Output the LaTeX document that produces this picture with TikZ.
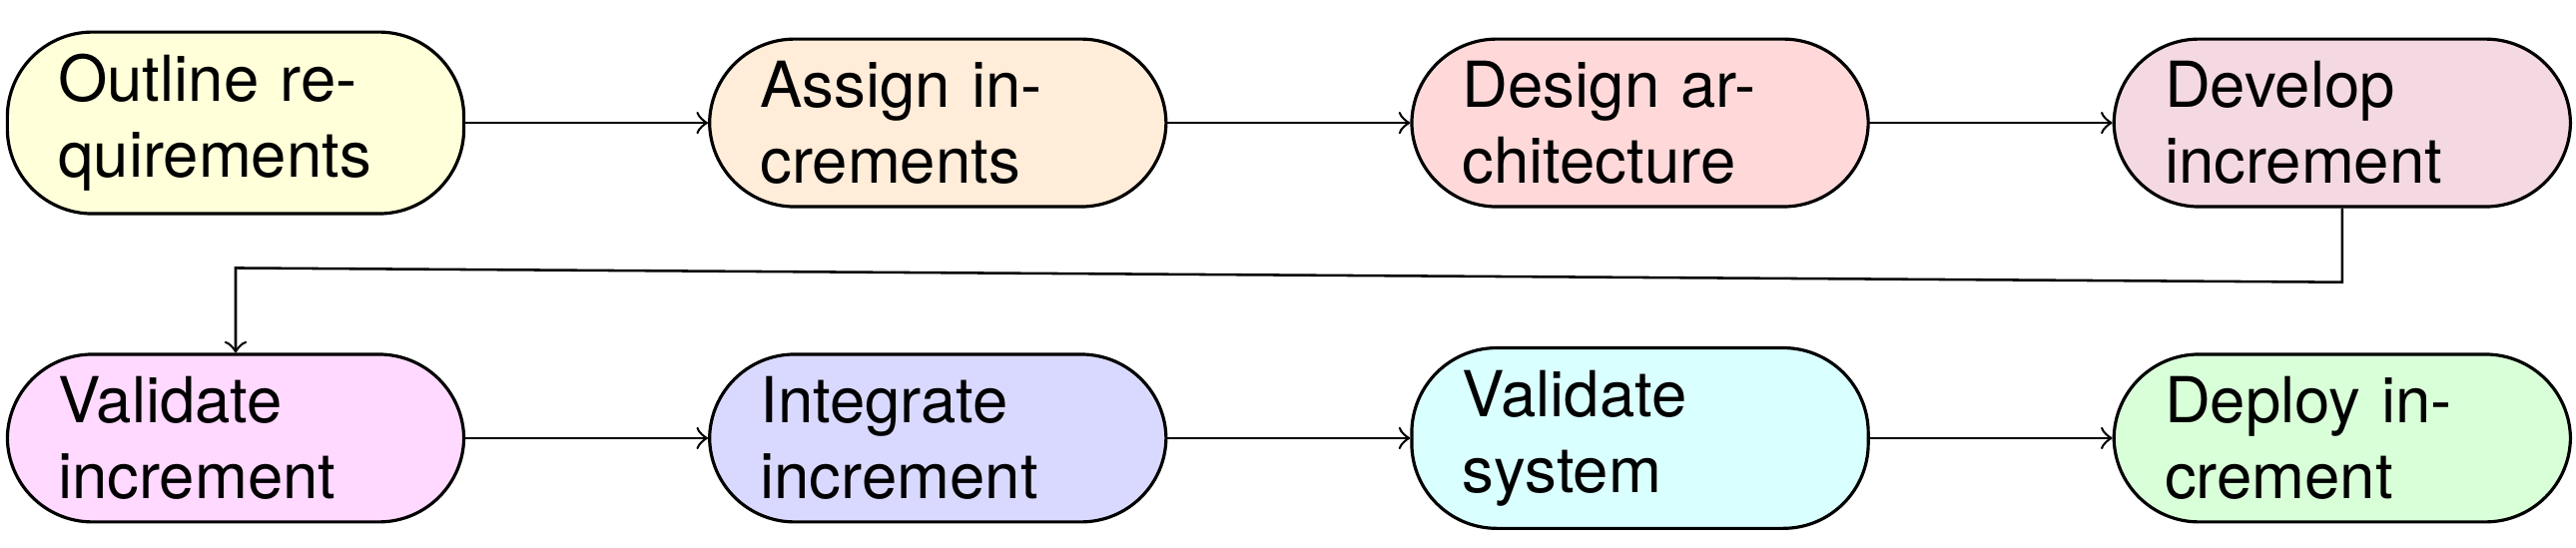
\documentclass[tikz,border=0pt]{standalone}
\usepackage{fontspec}
\setsansfont{TeX Gyre Heros}
\usepackage{tikz}
\usetikzlibrary{calc}
\usepackage{xcolor}

\definecolor{outlinec}{rgb}{1,1,0.85}
\definecolor{assignc}{rgb}{1,0.925,0.85}
\definecolor{designc}{rgb}{1,0.85,0.85}
\definecolor{developc}{rgb}{0.9625,0.85,0.8875}
\definecolor{validatec}{rgb}{1,0.85,1}
\definecolor{integratec}{rgb}{0.85,0.85,1}
\definecolor{systemc}{rgb}{0.85,1,1}
\definecolor{deployc}{rgb}{0.85,1,0.85}

\begin{document}
\begin{tikzpicture}[
		s/.style = {rectangle, draw=black, line width=0.5pt, rounded corners=13.4pt, text width=56pt, align=left, inner xsep=8pt, inner ysep=3.5pt, font=\sffamily},
		f/.style = {->}
		]
		\useasboundingbox (0,0) rectangle (14.278,3.038);

		%Nodes
		\node[s, fill=outlinec]	(1)	at	(1.306, 2.357)	{Outline re-\\quirements};
		\node[s, fill=assignc]	(2)	at	(5.198, 2.357)	{Assign in-\\crements};
		\node[s, fill=designc]	(3)	at	(9.090, 2.357)	{Design ar-\\chitecture};
		\node[s, fill=developc]	(4)	at	(12.982, 2.357)	{Develop\\increment};
		\node[s, fill=validatec]	(5)	at	(1.306, 0.609)	{Validate\\increment};
		\node[s, fill=integratec]	(6)	at	(5.198, 0.609)	{Integrate\\increment};
		\node[s, fill=systemc]	(7)	at	(9.090, 0.609)	{Validate\\system};
		\node[s, fill=deployc]	(8)	at	(12.982, 0.609)	{Deploy in-\\crement};

		%Lines
		\draw[f]	(1.east)	--	(2.west);
		\draw[f]	(2.east)	--	(3.west);
		\draw[f]	(3.east)	--	(4.west);
		\draw[f]	(4.south)	--	++(0,-0.41)	--	($(5.north)+(0,0.47)$)	--	(5.north);
		\draw[f]	(5.east)	--	(6.west);
		\draw[f]	(6.east)	--	(7.west);
		\draw[f]	(7.east)	--	(8.west);
	\end{tikzpicture}
\end{document}
